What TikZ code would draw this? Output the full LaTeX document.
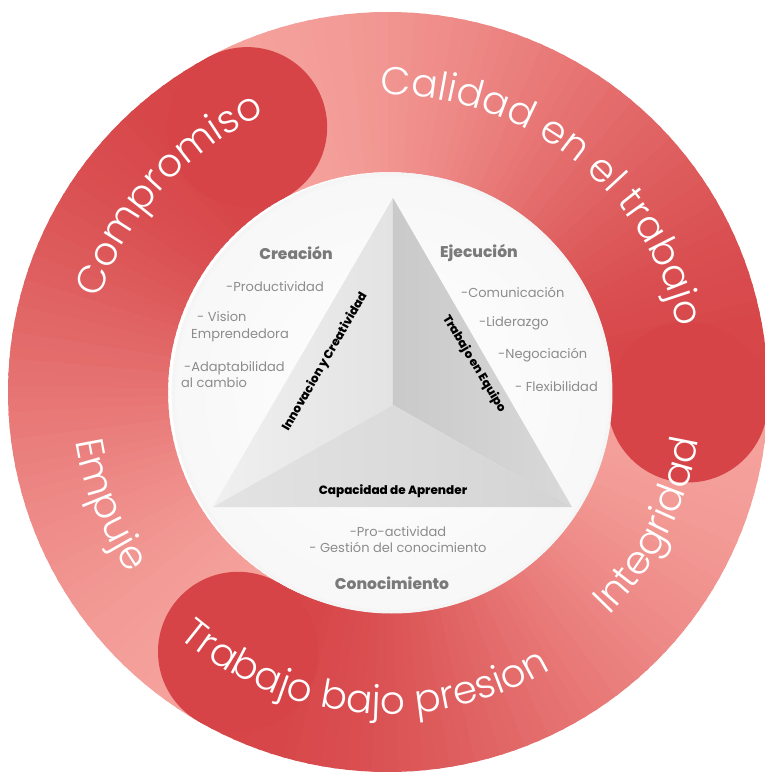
\documentclass[tikz,border=0pt]{standalone}
\usepackage{fontspec}
\setmainfont{Poppins}
\newfontfamily\ringfont{Poppins Light}
\newfontfamily\heavyfont{Poppins ExtraBold}
\usetikzlibrary{decorations.text}
\definecolor{ringdark}{RGB}{214,68,71}
\definecolor{ringlight}{RGB}{245,161,156}
\definecolor{headgray}{RGB}{122,122,122}
\definecolor{itemgray}{RGB}{140,140,140}
\tikzset{
  heading/.style={text=headgray, inner sep=0pt, font=\heavyfont\fontsize{15.5}{18}\selectfont},
  item/.style={text=itemgray, inner sep=0pt, font=\fontsize{13}{16.5}\selectfont},
  facelabel/.style={inner sep=0pt, font=\heavyfont\fontsize{12}{14}\selectfont},
  ringlabel/.style={decorate, decoration={text along path, text align=center,
    text={|\ringfont\fontsize{39}{39}\selectfont\color{white}|#1}}}
}
\begin{document}
\begin{tikzpicture}[x=1pt,y=1pt]
	\useasboundingbox (-388,-380) rectangle (376,392);
	
	% ring bands, dark head fading to light tail
	\foreach \h/\l in {-2/120, 118/122, 240/118}{
		\foreach \i in {0,...,59}{
			\pgfmathsetmacro\s{\h+\i*\l/60}
			\pgfmathsetmacro\e{\s+\l/60+0.6}
			\pgfmathsetmacro\t{\i/59}
			\pgfmathtruncatemacro\p{100*(1-3*\t*\t+2*\t*\t*\t)}
			\fill[ringdark!\p!ringlight] (\s:380) arc[start angle=\s, end angle=\e, radius=380]
				-- (\e:220) arc[start angle=\e, end angle=\s, radius=220] -- cycle;
		}
	}
	% rounded heads
	\foreach \h in {-2, 118, 240}
		\fill[ringdark] (\h:300) circle[radius=80];
	
	% ring labels
	\path[ringlabel=Calidad en el trabajo] (102:297) arc[start angle=102, end angle=2, radius=297];
	\path[ringlabel=Compromiso] (178:303) arc[start angle=178, end angle=98, radius=303];
	\path[ringlabel=Empuje] (176:316) arc[start angle=176, end angle=228, radius=316];
	\path[ringlabel=Trabajo bajo presion] (200:322) arc[start angle=200, end angle=330, radius=322];
	\path[ringlabel=Integridad] (300:314) arc[start angle=300, end angle=366, radius=314];
	
	% inner disc
	\shade[inner color=white, outer color=black!3] (4,-1) circle[radius=220];
	\draw[black!4, line width=3pt] (4,-1) circle[radius=219];
	
	% pyramid
	\coordinate (apex) at (5,194);
	\coordinate (bl) at (-175,-115);
	\coordinate (br) at (184,-115);
	\coordinate (mid) at (5,-13);
	\shade[left color=black!6, right color=black!11] (apex) -- (bl) -- (mid) -- cycle;
	\shade[left color=black!21, right color=black!15] (apex) -- (mid) -- (br) -- cycle;
	\shade[left color=black!11, right color=black!17] (bl) -- (mid) -- (br) -- cycle;
	\node[facelabel, rotate=60] (innov) at (-63,30) {Innovacion y Creatividad};
	\node[facelabel, rotate=-59] (equipo) at (86,28) {Trabajo en Equipo};
	\node[facelabel] (aprender) at (5,-99) {Capacidad de Aprender};
	
	% creacion
	\node[heading] (creacion) at (-92,139) {Creación};
	\node[item] (prod) at (-113,105) {-Productividad};
	\node[item, anchor=west, align=left] (vision) at (-197,65.5) {\hspace*{6pt}- Vision\\Emprendedora};
	\node[item, anchor=west, align=left] (adapt) at (-207,17.5) {\hspace*{3pt}-Adaptabilidad\\al cambio};
	
	% ejecucion
	\node[heading] (ejecucion) at (91,139) {Ejecución};
	\node[item, anchor=west] (comun) at (73,100) {-Comunicación};
	\node[item, anchor=west] (lider) at (91,69) {-Liderazgo};
	\node[item, anchor=west] (negoc) at (110,37) {-Negociación};
	\node[item, anchor=west] (flex) at (127,5) {- Flexibilidad};
	
	% conocimiento
	\node[item, align=center] (proact) at (10,-147.5) {-Pro-actividad\\- Gestión del conocimiento};
	\node[heading] (conoc) at (4,-191) {Conocimiento};
\end{tikzpicture}
\end{document}
